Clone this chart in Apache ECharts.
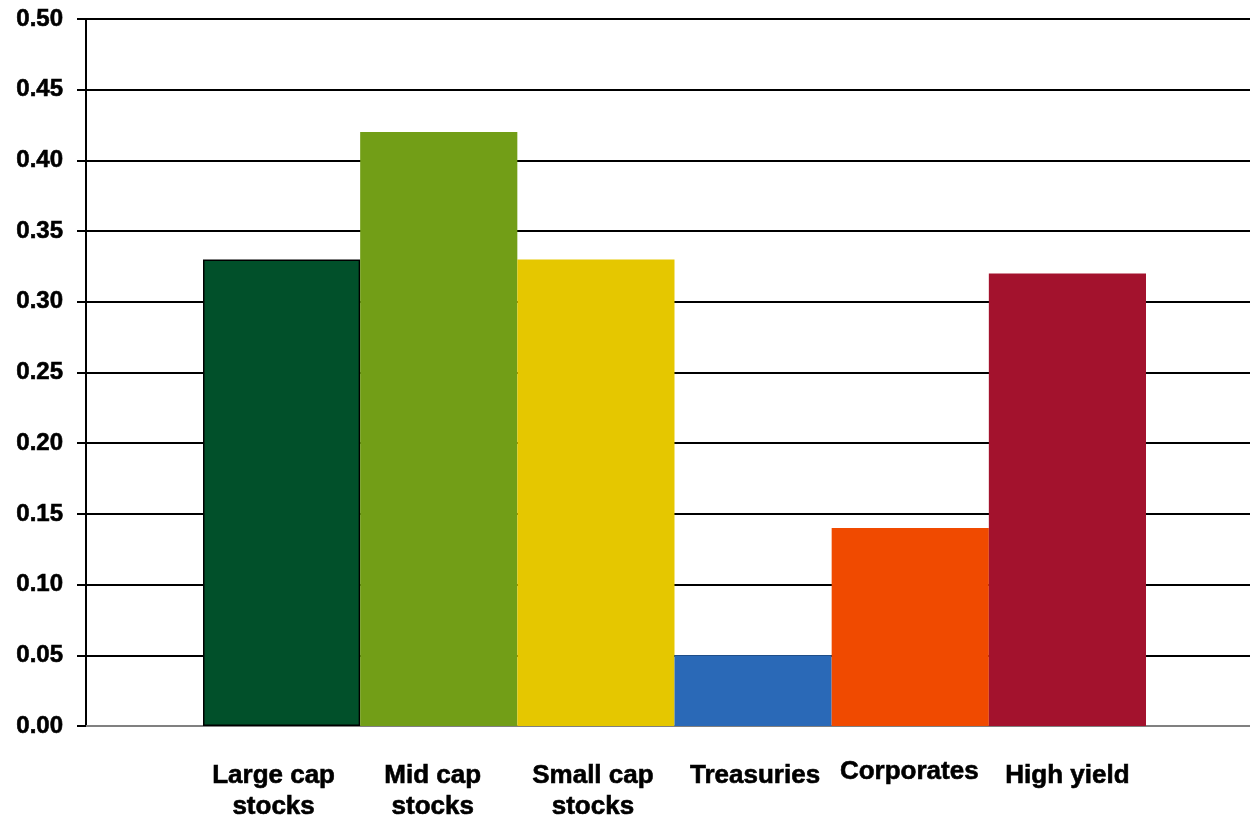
<!DOCTYPE html>
<html>
<head>
<meta charset="utf-8">
<script src="https://cdn.jsdelivr.net/npm/echarts@6/dist/echarts.min.js"></script>
<style>
  html, body { margin: 0; padding: 0; background: #fff; }
  #chart { width: 1250px; height: 818px; }
</style>
</head>
<body>
<div id="chart"></div>
<script>
// Asset classes and their values
const categories = ['Large cap\nstocks', 'Mid cap\nstocks', 'Small cap\nstocks', 'Treasuries', 'Corporates', 'High yield'];
const values = [0.33, 0.42, 0.33, 0.05, 0.14, 0.32];
const barColors = ['#01502A', '#729E17', '#E5C700', '#2A69B7', '#F04A00', '#A3122D'];
const yTicks = { min: 0, max: 0.5, interval: 0.05 };

// Per-label nudges for the category captions: [dx, dy] in pixels
const labelNudge = [[-8, 0], [-6, 0], [-3, 0], [2, 1], [-1, -4], [0, 0]];

const chart = echarts.init(document.getElementById('chart'), null, { renderer: 'canvas' });

// Heavy bold text: bold face plus a thin outline in the same colour
const fontBase = {
  fontFamily: 'Liberation Sans, Arial, sans-serif', fontWeight: 'bold', color: '#000',
  textBorderColor: '#000', textBorderWidth: 0.6
};

const rich = {};
labelNudge.forEach(function (n, i) {
  const dx = n[0], dy = n[1];
  rich['l' + i] = Object.assign({}, fontBase, {
    fontSize: 26, lineHeight: 31,
    padding: [Math.max(dy, 0), Math.max(-dx * 2, 0), Math.max(-dy * 2, 0), Math.max(dx * 2, 0)]
  });
});

chart.setOption({
  animation: false,
  backgroundColor: '#fff',
  grid: [
    { left: 86, right: 0, top: 19, bottom: 92, outerBoundsMode: 'none' },
    { left: 203, right: 104, top: 19, bottom: 92, outerBoundsMode: 'none' }
  ],
  xAxis: [
    {
      gridIndex: 0, type: 'category', data: [''],
      axisLine: { show: true, lineStyle: { color: '#808080', width: 2 } },
      axisTick: { show: false }, axisLabel: { show: false }
    },
    {
      gridIndex: 1, type: 'category', data: categories,
      axisLine: { show: false }, axisTick: { show: false },
      axisLabel: Object.assign({}, fontBase, {
        fontSize: 26, lineHeight: 31, margin: 34, interval: 0,
        formatter: function (v, idx) {
          return v.split('\n').map(function (line) { return '{l' + idx + '|' + line + '}'; }).join('\n');
        },
        rich: rich
      })
    }
  ],
  yAxis: [
    {
      gridIndex: 0, type: 'value', min: yTicks.min, max: yTicks.max, interval: yTicks.interval,
      axisLine: { show: true, lineStyle: { color: '#000', width: 2 } },
      axisTick: { show: true, length: 9, lineStyle: { color: '#000', width: 2 } },
      splitLine: { show: true, lineStyle: { color: '#000', width: 1.8 } },
      axisLabel: Object.assign({}, fontBase, {
        margin: 23, fontSize: 24,
        formatter: function (v) { return v.toFixed(2); }
      })
    },
    {
      gridIndex: 1, type: 'value', min: yTicks.min, max: yTicks.max, interval: yTicks.interval,
      show: false
    }
  ],
  series: [{
    type: 'bar', xAxisIndex: 1, yAxisIndex: 1,
    barCategoryGap: '0%',
    data: values.map(function (v, i) {
      return {
        value: v,
        itemStyle: i === 0
          ? { color: barColors[i], borderColor: '#000', borderWidth: 1.5 }
          : { color: barColors[i] }
      };
    })
  }]
});
</script>
</body>
</html>
